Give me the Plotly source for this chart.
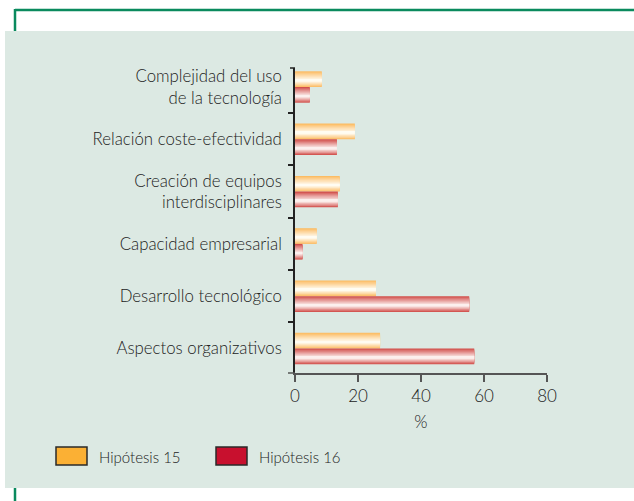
import plotly.graph_objects as go

categories = ["Complejidad del uso<br>de la tecnología",
              "Relación coste-efectividad",
              "Creación de equipos<br>interdisciplinares",
              "Capacidad empresarial",
              "Desarrollo tecnológico",
              "Aspectos organizativos"]
hip15 = [8.5, 19.0, 14.2, 6.9, 25.7, 27.0]
hip16 = [4.7, 13.3, 13.6, 2.4, 55.3, 56.9]
series_names = ["Hipótesis 15", "Hipótesis 16"]
x_ticks = [0, 20, 40, 60, 80]

W, H = 634, 501
ML, MR, MT, MB = 295, 87, 68, 128
PW, PH = W - ML - MR, H - MT - MB

def px(x):
    return (x - ML) / PW

def py(y):
    return (H - MB - y) / PH

def mix(c1, c2, t):
    return "rgb(%d,%d,%d)" % tuple(round(a + (b - a) * t) for a, b in zip(c1, c2))

FONT = "Lato"
TXT = "#222222"
WT = 300

fig = go.Figure()

bar_h = 0.3
N = 9
gradients = [((252, 188, 100), (255, 252, 242)), ((210, 80, 76), (252, 240, 238))]
tops = [-bar_h, 0.0]
f = 0.6
for s, vals in enumerate([hip15, hip16]):
    edge, light = gradients[s]
    a = tops[s]
    for i in range(N):
        t = i / N
        thick = bar_h * (1 - t)
        off = a + f * bar_h * t
        fig.add_trace(go.Bar(
            y=categories, x=vals, orientation="h",
            width=thick, offset=off,
            marker=dict(color=mix(edge, light, (i / (N - 1)) ** 0.9), line=dict(width=0)),
            showlegend=False, hoverinfo="skip", name=series_names[s]))

shapes = []
shapes.append(dict(type="rect", xref="paper", yref="paper", layer="below",
                   x0=px(5), x1=px(640), y0=py(488), y1=py(31),
                   fillcolor="#DCE9E3", line=dict(width=0)))
green = "#0A8A5E"
shapes.append(dict(type="line", xref="paper", yref="paper", layer="below",
                   x0=px(15), x1=px(640), y0=py(10), y1=py(10), line=dict(color=green, width=2.5)))
shapes.append(dict(type="line", xref="paper", yref="paper", layer="below",
                   x0=px(15), x1=px(15), y0=py(9), y1=py(31), line=dict(color=green, width=2.5)))
shapes.append(dict(type="line", xref="paper", yref="paper", layer="below",
                   x0=px(15), x1=px(15), y0=py(488), y1=py(501), line=dict(color=green, width=2.5)))
shapes.append(dict(type="line", xref="paper", yref="paper",
                   x0=px(288), x1=0, y0=0, y1=0, line=dict(color="#555555", width=1.5)))
shapes.append(dict(type="line", xref="paper", yref="paper",
                   x0=px(290), x1=0, y0=1, y1=1, line=dict(color="#222222", width=1.5)))

leg_colors = ["#FBB034", "#C8102E"]
leg_x = [56, 216]
annotations = []
for name, col, lx in zip(series_names, leg_colors, leg_x):
    shapes.append(dict(type="rect", xref="paper", yref="paper",
                       x0=px(lx), x1=px(lx + 31), y0=py(465), y1=py(447),
                       fillcolor=col, line=dict(color="#2a2a2a", width=1.5)))
    annotations.append(dict(xref="paper", yref="paper", x=px(lx + 41), y=py(456.5),
                            xanchor="left", yanchor="middle", showarrow=False,
                            text=name, font=dict(family=FONT, size=15, color=TXT, weight=WT)))

fig.update_layout(
    width=W, height=H,
    margin=dict(l=ML, r=MR, t=MT, b=MB, pad=0),
    paper_bgcolor="white", plot_bgcolor="rgba(0,0,0,0)",
    barmode="overlay",
    font=dict(family=FONT, size=16, color=TXT, weight=WT),
    shapes=shapes, annotations=annotations,
    xaxis=dict(range=[0, 80], tickvals=x_ticks, ticks="outside", ticklen=7,
               tickcolor="#555555", tickwidth=1.5,
               showline=True, linecolor="#555555", linewidth=1.5,
               showgrid=False, zeroline=False,
               tickfont=dict(family=FONT, size=17, color=TXT, weight=WT),
               title=dict(text="%", font=dict(family=FONT, size=17, color=TXT, weight=WT), standoff=11)),
    yaxis=dict(type="category", categoryorder="array", categoryarray=categories,
               range=[5.468, -0.363], ticks="outside", ticklen=5, tickson="boundaries",
               tickcolor="#222222", tickwidth=1.5,
               showline=True, linecolor="#222222", linewidth=1.5,
               showgrid=False, zeroline=False, ticklabelstandoff=8,
               tickfont=dict(family=FONT, size=16.8, color=TXT, weight=WT)),
)

fig.write_html("out.html", config={"displayModeBar": False},
               post_script="document.body.style.margin='0';document.body.style.padding='0';")
